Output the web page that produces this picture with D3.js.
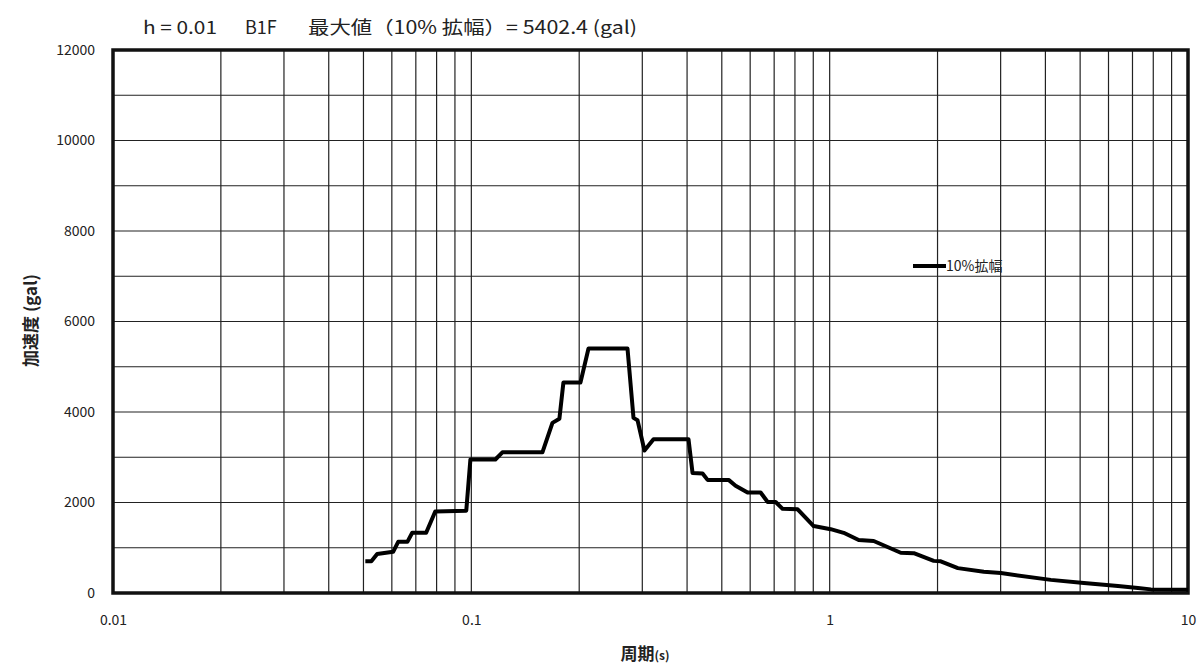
<!DOCTYPE html>
<html>
<head>
<meta charset="utf-8">
<script src="https://cdn.jsdelivr.net/npm/d3@7"></script>
<style>
  body { margin: 0; background: #fff; }
  svg text { font-family: "Noto Sans CJK JP", "Noto Sans", sans-serif; fill: #222; }
</style>
</head>
<body>
<svg id="chart" width="1204" height="666"></svg>
<script>
// spectrum data (period in s, acceleration in gal)
var periods = [0.0506, 0.0526, 0.0546, 0.0605, 0.0625, 0.0663, 0.0684, 0.0748, 0.0793, 0.0968,
               0.0994, 0.1167, 0.1221, 0.1579, 0.1684, 0.1761, 0.1807, 0.2016, 0.2123, 0.2728,
               0.2835, 0.2909, 0.3042, 0.3224, 0.4037, 0.4143, 0.4419, 0.4563, 0.5223, 0.5463,
               0.5900, 0.6417, 0.6713, 0.7067, 0.7390, 0.8141, 0.9023, 1.0065, 1.094, 1.205,
               1.327, 1.579, 1.717, 1.952, 2.042, 2.279, 2.693, 3.004, 4.142, 5.123,
               6.376, 7.25, 7.88, 10];
var accel   = [700, 700, 860, 910, 1130, 1130, 1330, 1330, 1800, 1820,
               2950, 2950, 3110, 3110, 3760, 3850, 4650, 4650, 5402, 5402,
               3870, 3820, 3150, 3400, 3400, 2650, 2640, 2500, 2500, 2370,
               2220, 2220, 2010, 2010, 1860, 1850, 1480, 1410, 1330, 1170,
               1150, 890, 880, 710, 700, 550, 470, 440, 290, 220,
               155, 110, 80, 70];
var xTicks = [0.01, 0.1, 1, 10];
var yTicks = [0, 2000, 4000, 6000, 8000, 10000, 12000];
var titleParts = ["h = 0.01", "B1F", "最大値（10% 拡幅）= 5402.4 (gal)"];
var seriesName = "10%拡幅";

var svg = d3.select("#chart");
var margin = {top: 50, right: 16, bottom: 73, left: 113};
var width = 1204 - margin.left - margin.right,
    height = 666 - margin.top - margin.bottom;

var x = d3.scaleLog().domain([0.01, 10]).range([margin.left, margin.left + width]);
var y = d3.scaleLinear().domain([0, 12000]).range([margin.top + height, margin.top]);

// minor log grid 0.01..10
var vLines = [];
[0.01, 0.1, 1].forEach(function(dec) {
  for (var k = 1; k <= 9; k++) vLines.push(dec * k);
});

svg.append("g")
  .selectAll("line")
  .data(vLines)
  .enter().append("line")
    .attr("x1", function(d) { return x(d); })
    .attr("x2", function(d) { return x(d); })
    .attr("y1", y(0)).attr("y2", y(12000))
    .attr("stroke", "#222").attr("stroke-width", 1.2);

svg.append("g")
  .selectAll("line")
  .data(d3.range(0, 12001, 1000))
  .enter().append("line")
    .attr("x1", x(0.01)).attr("x2", x(10))
    .attr("y1", function(d) { return y(d); })
    .attr("y2", function(d) { return y(d); })
    .attr("stroke", "#222").attr("stroke-width", 1.2);

// frame
svg.append("rect")
  .attr("x", x(0.01)).attr("y", y(12000))
  .attr("width", x(10) - x(0.01)).attr("height", y(0) - y(12000))
  .attr("fill", "none").attr("stroke", "#111").attr("stroke-width", 3.5);

// axes labels
var yAxis = d3.axisLeft(y).tickValues(yTicks).tickFormat(d3.format("d")).tickSize(0).tickPadding(18);
var gy = svg.append("g").attr("transform", "translate(" + margin.left + ",0)").call(yAxis);
gy.select(".domain").remove();
gy.selectAll("text").style("font-size", "14px").attr("font-family", null);

var xAxis = d3.axisBottom(x).tickValues(xTicks).tickFormat(function(d) { return d; })
  .tickSize(0).tickPadding(22);
var gx = svg.append("g").attr("transform", "translate(0," + (margin.top + height) + ")").call(xAxis);
gx.select(".domain").remove();
gx.selectAll("text").style("font-size", "14px").attr("font-family", null);

// series line
var line = d3.line()
  .x(function(d, i) { return x(periods[i]); })
  .y(function(d) { return y(d); });

svg.append("path")
  .datum(accel)
  .attr("fill", "none")
  .attr("stroke", "#000")
  .attr("stroke-width", 4)
  .attr("stroke-linejoin", "round")
  .attr("d", line);

// legend
svg.append("line")
  .attr("x1", 913).attr("x2", 946).attr("y1", 266).attr("y2", 266)
  .attr("stroke", "#000").attr("stroke-width", 4);
svg.append("text")
  .attr("x", 946).attr("y", 271)
  .style("font-size", "14px")
  .text(seriesName);

// title
var titleX = [143, 245, 308], titleW = [74, null, 329];
svg.append("g").selectAll("text")
  .data(titleParts)
  .enter().append("text")
    .attr("x", function(d, i) { return titleX[i]; })
    .attr("y", 34)
    .attr("textLength", function(d, i) { return titleW[i]; })
    .attr("lengthAdjust", "spacingAndGlyphs")
    .style("font-size", "18px")
    .text(function(d) { return d; });

// axis titles
svg.append("text")
  .attr("transform", "translate(37," + (y(6000) - 1) + ") rotate(-90)")
  .attr("text-anchor", "middle")
  .style("font-size", "17px").style("font-weight", "bold")
  .text("加速度 (gal)");

var xt = svg.append("text")
  .attr("x", 645).attr("y", 660)
  .attr("text-anchor", "middle")
  .style("font-size", "17px").style("font-weight", "bold");
xt.append("tspan").text("周期");
xt.append("tspan").style("font-size", "12px").text("(s)");
</script>
</body>
</html>
